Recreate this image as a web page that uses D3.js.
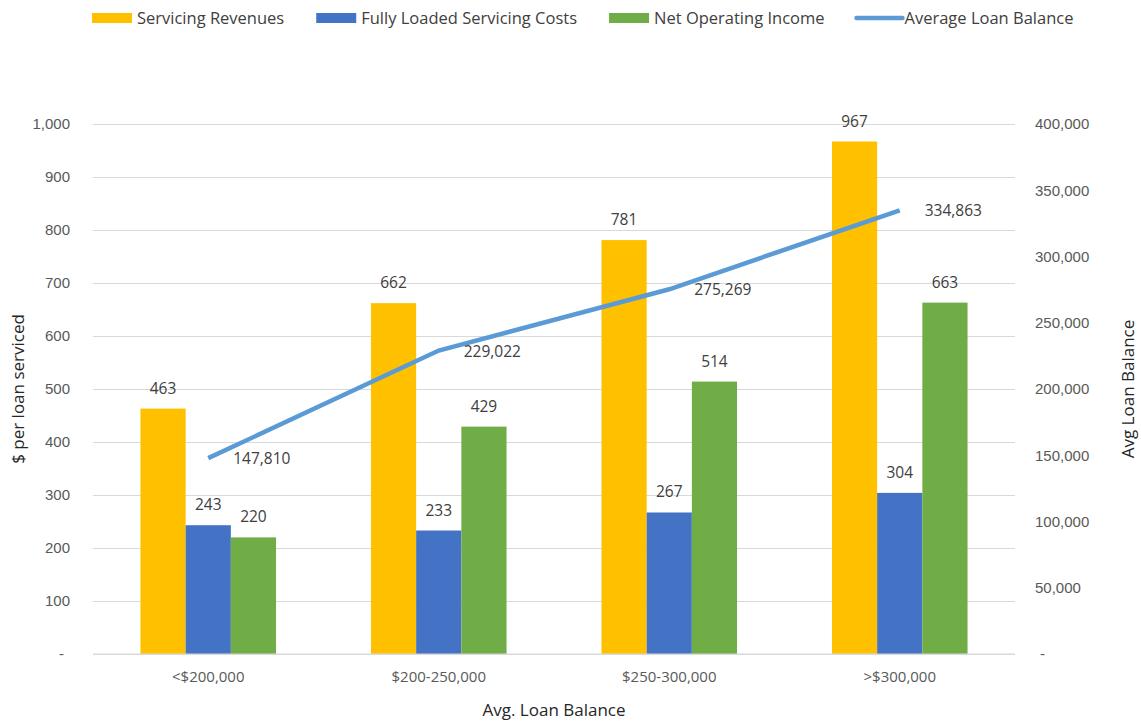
<!DOCTYPE html>
<html>
<head>
<meta charset="utf-8">
<script src="https://cdn.jsdelivr.net/npm/d3@7"></script>
<style>
    body { margin: 0; background: #fff; }
    svg { font-family: "Open Sans", sans-serif; }
</style>
</head>
<body>
<div id="chart"></div>
<script>
const categories = ["<$200,000", "$200-250,000", "$250-300,000", ">$300,000"];
const seriesNames = ["Servicing Revenues", "Fully Loaded Servicing Costs", "Net Operating Income"];
const servicingRevenues = [463, 662, 781, 967];
const servicingCosts = [243, 233, 267, 304];
const netOperatingIncome = [220, 429, 514, 663];
const lineName = "Average Loan Balance";
const avgLoanBalance = [147810, 229022, 275269, 334863];
const leftTicks = [0, 100, 200, 300, 400, 500, 600, 700, 800, 900, 1000];
const rightTicks = [0, 50000, 100000, 150000, 200000, 250000, 300000, 350000, 400000];

const colors = ["#FFC000", "#4472C4", "#70AD47"];
const lineColor = "#5B9BD5";

function drawChart() {
    const W = 1141, H = 723;
    const margin = {top: 124, right: 126, bottom: 69, left: 93};
    const width = W - margin.left - margin.right;
    const height = H - margin.top - margin.bottom;

    const svg = d3.select("#chart")
        .append("svg")
        .attr("width", W)
        .attr("height", H);

    const g = svg.append("g")
        .attr("transform", `translate(${margin.left}, ${margin.top})`);

    const x0 = d3.scaleBand().domain(categories).range([0, width]).padding(0);
    const x1 = d3.scaleBand().domain(seriesNames).range([0, x0.bandwidth()])
        .paddingInner(0).paddingOuter(1.05);
    const y = d3.scaleLinear().domain([0, 1000]).range([height, 0]);
    const y2 = d3.scaleLinear().domain([0, 400000]).range([height, 0]);

    const fmt = d3.format(",");
    const tickFmt = d => d === 0 ? "-" : fmt(d);

    // gridlines
    g.append("g")
        .attr("class", "grid")
        .call(d3.axisLeft(y).tickValues(leftTicks).tickSize(-width).tickFormat(""))
        .call(s => s.select(".domain").remove())
        .call(s => s.selectAll("line").attr("stroke", "#D9D9D9"));

    // left axis labels
    g.append("g")
        .call(d3.axisLeft(y).tickValues(leftTicks).tickSize(0).tickPadding(23).tickFormat(tickFmt))
        .call(s => s.select(".domain").remove())
        .call(s => s.selectAll("text")
            .attr("fill", "#595959")
            .style("font-size", "15px")
            .attr("dx", d => d === 0 ? -6 : 0));

    // right axis labels
    g.append("g")
        .attr("transform", `translate(${width}, 0)`)
        .call(d3.axisRight(y2).tickValues(rightTicks).tickSize(0).tickPadding(20).tickFormat(tickFmt))
        .call(s => s.select(".domain").remove())
        .call(s => s.selectAll("text")
            .attr("fill", "#595959")
            .style("font-size", "15px")
            .attr("dx", d => d === 0 ? 5 : 0));

    // bars
    const table = categories.map((c, i) => ({
        cat: c,
        values: [servicingRevenues[i], servicingCosts[i], netOperatingIncome[i]]
    }));

    const groups = g.selectAll(".grp")
        .data(table)
        .enter()
        .append("g")
        .attr("class", "grp")
        .attr("transform", d => `translate(${x0(d.cat)}, 0)`);

    groups.selectAll("rect")
        .data(d => d.values.map((v, k) => ({name: seriesNames[k], value: v, k: k})))
        .enter()
        .append("rect")
        .attr("x", d => x1(d.name))
        .attr("y", d => y(d.value))
        .attr("width", x1.bandwidth())
        .attr("height", d => height - y(d.value))
        .attr("fill", d => colors[d.k]);

    groups.selectAll(".barLabel")
        .data(d => d.values.map((v, k) => ({name: seriesNames[k], value: v})))
        .enter()
        .append("text")
        .attr("class", "barLabel")
        .attr("x", d => x1(d.name) + x1.bandwidth() / 2)
        .attr("y", d => y(d.value) - 15)
        .attr("text-anchor", "middle")
        .attr("fill", "#404040")
        .style("font-size", "15.5px")
        .text(d => fmt(d.value));

    // x axis line
    g.append("line")
        .attr("x1", 0).attr("x2", width)
        .attr("y1", height).attr("y2", height)
        .attr("stroke", "#D9D9D9");

    // category labels
    g.append("g")
        .attr("transform", `translate(0, ${height})`)
        .call(d3.axisBottom(x0).tickSize(0).tickPadding(17))
        .call(s => s.select(".domain").remove())
        .call(s => s.selectAll("text")
            .attr("fill", "#595959")
            .style("font-size", "15px")
            .style("font-family", "Open Sans, sans-serif"));

    // line
    const lineData = categories.map((c, i) => ({cat: c, value: avgLoanBalance[i]}));
    const line = d3.line()
        .x(d => x0(d.cat) + x0.bandwidth() / 2)
        .y(d => y2(d.value));

    g.append("path")
        .datum(lineData)
        .attr("d", line)
        .attr("fill", "none")
        .attr("stroke", lineColor)
        .attr("stroke-width", 4.5);

    g.selectAll(".lineLabel")
        .data(lineData)
        .enter()
        .append("text")
        .attr("class", "lineLabel")
        .attr("x", d => x0(d.cat) + x0.bandwidth() / 2 + 25)
        .attr("y", d => y2(d.value) + 6)
        .attr("fill", "#404040")
        .style("font-size", "15.5px")
        .text(d => fmt(d.value));

    // axis titles
    svg.append("text")
        .attr("x", margin.left + width / 2)
        .attr("y", 716)
        .attr("text-anchor", "middle")
        .attr("fill", "#262626")
        .style("font-size", "17px")
        .text("Avg. Loan Balance");

    svg.append("text")
        .attr("transform", `translate(24, ${margin.top + height / 2}) rotate(-90)`)
        .attr("text-anchor", "middle")
        .attr("fill", "#262626")
        .style("font-size", "17px")
        .text("$ per loan serviced");

    svg.append("text")
        .attr("transform", `translate(1134, ${margin.top + height / 2}) rotate(-90)`)
        .attr("text-anchor", "middle")
        .attr("fill", "#262626")
        .style("font-size", "17px")
        .text("Avg Loan Balance");

    // legend
    const legendItems = seriesNames.map((n, k) => ({name: n, color: colors[k], type: "rect"}))
        .concat([{name: lineName, color: lineColor, type: "line"}]);

    const legend = svg.append("g").attr("transform", "translate(92, 18)");
    let lx = 0;
    legendItems.forEach(function(item) {
        const it = legend.append("g").attr("transform", `translate(${lx}, 0)`);
        if (item.type === "rect") {
            it.append("rect")
                .attr("x", 0).attr("y", -5)
                .attr("width", 40).attr("height", 10)
                .attr("fill", item.color);
        } else {
            it.append("line")
                .attr("x1", 0).attr("x2", 46)
                .attr("y1", 0).attr("y2", 0)
                .attr("stroke", item.color)
                .attr("stroke-width", 4.5)
                .attr("stroke-linecap", "round");
        }
        const t = it.append("text")
            .attr("x", item.type === "rect" ? 45 : 48)
            .attr("y", 6)
            .attr("fill", "#404040")
            .style("font-size", "16.5px")
            .text(item.name);
        lx += (item.type === "rect" ? 45 : 48) + t.node().getComputedTextLength() + 32;
    });
}

drawChart();
</script>
</body>
</html>
